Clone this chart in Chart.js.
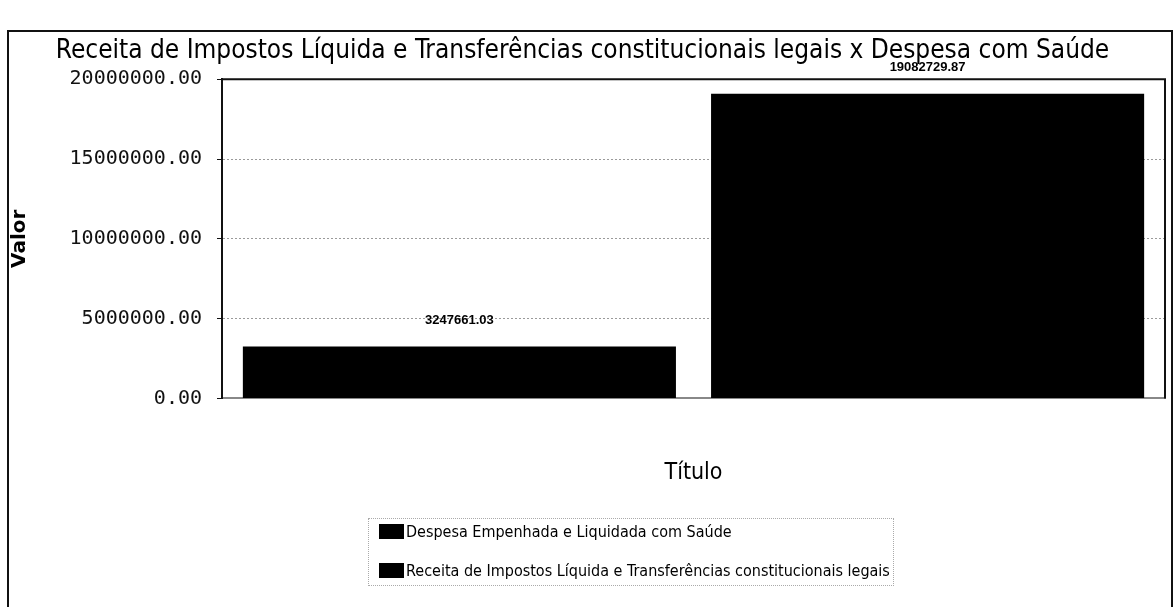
<!DOCTYPE html>
<html>
<head>
<meta charset="utf-8">
<script src="https://cdn.jsdelivr.net/npm/chart.js@4.4.1/dist/chart.umd.min.js"></script>
<style>
    body { margin: 0; background: #fff; }
    #wrap { position: relative; width: 1175px; height: 607px; overflow: hidden; }
    #frame { position: absolute; left: 7px; top: 30px; width: 1162px; height: 600px; border: 2px solid #111; border-bottom: none; pointer-events: none; }
    #legend { position: absolute; left: 368px; top: 518px; width: 524px; height: 66px; border: 1px dotted #aaa;
              font-family: "DejaVu Sans Condensed", "DejaVu Sans", sans-serif; font-size: 16px; color: #000; }
    .item { position: absolute; left: 10px; height: 18px; line-height: 18px; white-space: nowrap; }
    .item span.box { display: inline-block; width: 25px; height: 15px; vertical-align: -2px; margin-right: 2px; }
</style>
</head>
<body>
<div id="wrap">
    <canvas id="chart" width="1175" height="607"></canvas>
    <div id="frame"></div>
    <div id="legend"></div>
</div>
<script>
// 데이터
const categorias = [''];
const nomesSeries = ['Despesa Empenhada e Liquidada com Saúde', 'Receita de Impostos Líquida e Transferências constitucionais legais'];
const despesaSaude = [3247661.03];
const receitaImpostos = [19082729.87];
const ticksValor = [0, 5000000, 10000000, 15000000, 20000000];

const titulo = 'Receita de Impostos Líquida e Transferências constitucionais legais x Despesa com Saúde';

// 막대 위 값 표시
const valueLabels = {
    id: 'valueLabels',
    afterDatasetsDraw(chart) {
        const ctx = chart.ctx;
        ctx.save();
        ctx.font = 'bold 13px "Liberation Sans", sans-serif';
        ctx.fillStyle = '#000';
        ctx.textAlign = 'center';
        ctx.textBaseline = 'middle';
        chart.data.datasets.forEach((ds, i) => {
            chart.getDatasetMeta(i).data.forEach((bar, j) => {
                ctx.fillText(ds.data[j].toFixed(2), bar.x, bar.y - 26);
            });
        });
        ctx.restore();
    }
};

// 플롯 테두리
const plotFrame = {
    id: 'plotFrame',
    afterDraw(chart) {
        const a = chart.chartArea;
        const ctx = chart.ctx;
        ctx.save();
        ctx.strokeStyle = '#111';
        ctx.lineWidth = 2;
        ctx.beginPath();
        ctx.moveTo(a.left, a.top);
        ctx.lineTo(a.right, a.top);
        ctx.lineTo(a.right, a.bottom);
        ctx.stroke();
        ctx.restore();
    }
};

const chart = new Chart(document.getElementById('chart'), {
    type: 'bar',
    data: {
        labels: categorias,
        datasets: [
            { label: nomesSeries[0], data: despesaSaude, backgroundColor: '#000', borderWidth: 0 },
            { label: nomesSeries[1], data: receitaImpostos, backgroundColor: '#000', borderWidth: 0 }
        ]
    },
    options: {
        responsive: false,
        animation: false,
        categoryPercentage: 0.993,
        barPercentage: 0.925,
        layout: { padding: { left: 0, right: 10, top: 32, bottom: 120 } },
        plugins: {
            legend: { display: false },
            tooltip: { enabled: false },
            title: {
                display: true,
                text: titulo,
                color: '#000',
                font: { family: '"DejaVu Sans Condensed", "DejaVu Sans", sans-serif', size: 26, weight: 'normal' },
                padding: { top: 4, bottom: 12 }
            }
        },
        scales: {
            x: {
                ticks: { display: false },
                grid: { display: false },
                border: { color: '#888', width: 2 },
                title: {
                    display: true, text: 'Título', color: '#000',
                    font: { family: '"DejaVu Sans Condensed", "DejaVu Sans", sans-serif', size: 23 },
                    padding: { top: 53, bottom: 0 }
                }
            },
            y: {
                min: 0,
                max: ticksValor[ticksValor.length - 1],
                afterBuildTicks(scale) {
                    scale.ticks = ticksValor.map(v => ({ value: v }));
                },
                afterFit(scale) { scale.width = 222; },
                ticks: {
                    padding: 15,
                    color: '#111',
                    font: { family: '"DejaVu Sans Mono", monospace', size: 20 },
                    callback: v => Number(v).toFixed(2)
                },
                grid: {
                    tickLength: 5,
                    tickColor: '#111',
                    color: c => (c.tick && c.tick.value > 0 && c.tick.value < 20000000) ? '#9a9a9a' : 'rgba(0,0,0,0)',
                    tickBorderDash: [],
                    borderDash: [2, 2]
                },
                border: { color: '#111', width: 2, dash: [2, 2] },
                title: {
                    display: true, text: 'Valor', color: '#000',
                    font: { family: '"DejaVu Sans", sans-serif', size: 20, weight: 'bold' },
                    padding: { top: 8, bottom: 0 }
                }
            }
        }
    },
    plugins: [valueLabels, plotFrame]
});

// 범례 (HTML)
const legendBox = document.getElementById('legend');
chart.data.datasets.forEach((ds, i) => {
    const row = document.createElement('div');
    row.className = 'item';
    row.style.top = (4 + i * 39) + 'px';
    row.innerHTML = '<span class="box" style="background:' + ds.backgroundColor + '"></span>' + ds.label;
    legendBox.appendChild(row);
});
</script>
</body>
</html>
